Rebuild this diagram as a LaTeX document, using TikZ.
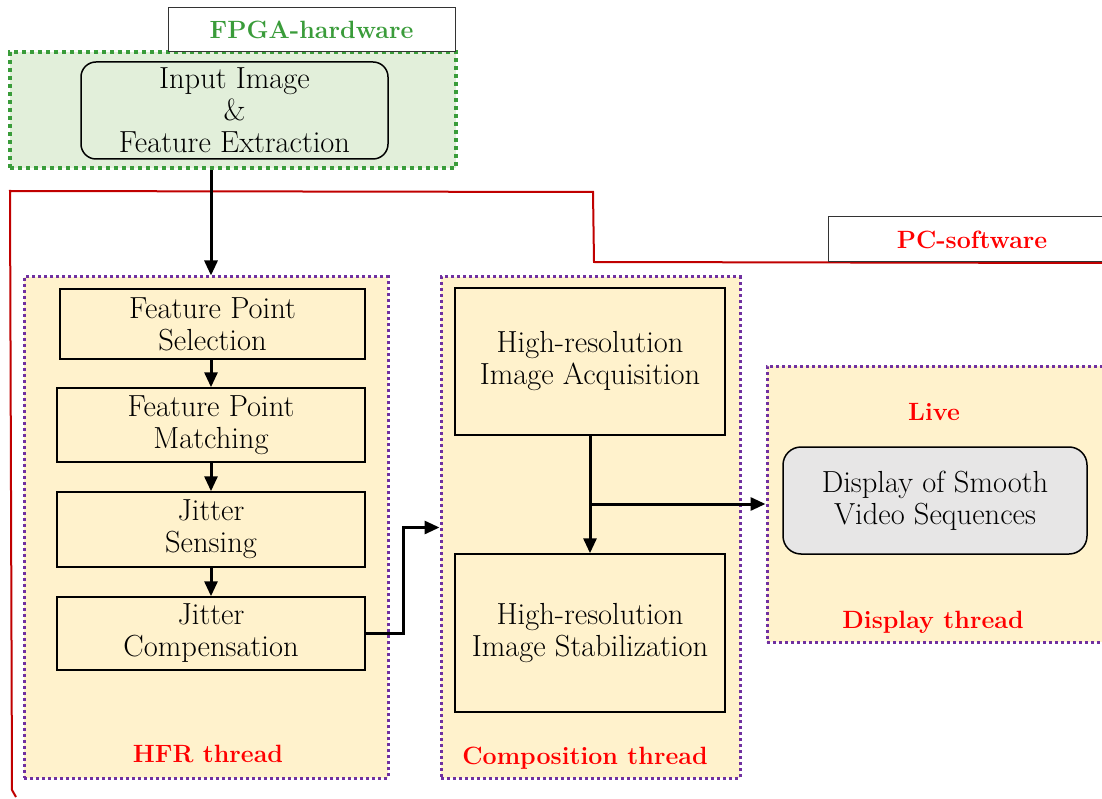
\documentclass[tikz,border=0pt]{standalone}
\usepackage{fontspec}
\usetikzlibrary{arrows.meta}
\definecolor{cream}{HTML}{FFF2CC}
\definecolor{lgreen}{HTML}{E2EFDA}
\definecolor{dgreen}{HTML}{3A9C3A}
\definecolor{purp}{HTML}{7030A0}
\definecolor{dred}{HTML}{C00000}
\definecolor{lgray}{HTML}{E7E6E6}
\begin{document}
\begin{tikzpicture}[x=1pt,y=-1pt,
  txt/.style={font=\fontsize{30.5}{32}\selectfont, align=center},
  lbl/.style={font=\fontsize{25}{28}\selectfont\bfseries, text=red, inner sep=0pt},
  stepbox/.style={draw=black, line width=1.5pt, fill=cream, txt, inner sep=0pt},
  container/.style={draw=purp, line width=3pt, dash pattern=on 3pt off 3pt, fill=cream, inner sep=0pt},
  tagbox/.style={draw=black!80, line width=1pt, fill=white, inner sep=0pt},
  arr/.style={line width=3pt, -{Triangle[length=15pt,width=13pt]}},
]
\useasboundingbox (0,0) rectangle (1102,799);
% separator
\draw[dred, line width=2pt] (16,797) -- (12,790) -- (10,191) -- (593,192) -- (594,262) -- (1106,263);
% FPGA region
\node[draw=dgreen, fill=lgreen, line width=4pt, dash pattern=on 4pt off 4pt, minimum width=446pt, minimum height=116pt, inner sep=0pt] (green) at (233,110) {};
\node[tagbox, minimum width=287pt, minimum height=44pt] (fpgatag) at (311.5,30) {};
\node[lbl, text=dgreen] (fpgalbl) at (fpgatag.center) {FPGA-hardware};
\node[draw=black, line width=1.5pt, fill=lgreen, rounded corners=15pt, minimum width=307pt, minimum height=97pt, txt, inner sep=0pt] (inp) at (234.5,110.5) {Input Image\\\&\\Feature Extraction};
% PC tag
\node[tagbox, minimum width=278pt, minimum height=45pt] (pctag) at (967,239.5) {};
\node[lbl] (pclbl) at (972,240) {PC-software};
% containers
\node[container, minimum width=364pt, minimum height=501pt] (hfr) at (206,527.5) {};
\node[container, minimum width=299pt, minimum height=501pt] (comp) at (590.5,527.5) {};
\node[container, minimum width=339pt, minimum height=276pt] (dispc) at (936.5,504) {};
\node[lbl] (hfrlbl) at (208,754) {HFR thread};
\node[lbl] (complbl) at (585,758) {Composition thread};
\node[lbl] (livelbl) at (934,412) {Live};
\node[lbl] (displbl) at (933,622) {Display thread};
% steps
\node[stepbox, minimum width=305pt, minimum height=70pt] (fps) at (212.5,324) {Feature Point\\Selection};
\node[stepbox, minimum width=308pt, minimum height=74pt] (fpm) at (211,425) {Feature Point\\Matching};
\node[stepbox, minimum width=308pt, minimum height=75pt] (js) at (211,529.5) {Jitter\\Sensing};
\node[stepbox, minimum width=308pt, minimum height=73pt] (jc) at (211,633.5) {Jitter\\Compensation};
\node[stepbox, minimum width=270pt, minimum height=147pt] (hra) at (590,361.5) {High-resolution\\Image Acquisition};
\node[stepbox, minimum width=270pt, minimum height=158pt] (hrs) at (590,633) {High-resolution\\Image Stabilization};
\node[draw=black, line width=1.5pt, fill=lgray, rounded corners=18pt, minimum width=304pt, minimum height=107pt, txt, inner sep=0pt] (disp) at (935,500.5) {Display of Smooth\\Video Sequences};
% connectors
\draw[arr] (green.south -| fpm.north) -- (hfr.north -| fpm.north);
\draw[arr] (fps.south -| fpm.north) -- (fpm.north);
\draw[arr] (fpm.south) -- (js.north);
\draw[arr] (js.south) -- (jc.north);
\draw[arr] (jc.east) -- ++(38,0) |- (comp.west);
\draw[arr] (hra.south) -- (hrs.north);
\draw[arr] (hra.south |- dispc.west) -- (dispc.west);
\end{tikzpicture}
\end{document}
